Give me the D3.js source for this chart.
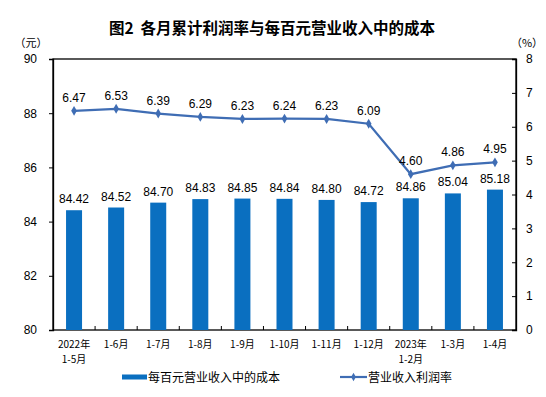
<!DOCTYPE html>
<html>
<head>
<meta charset="utf-8">
<script src="https://cdn.jsdelivr.net/npm/d3@7"></script>
<style>
  body { margin: 0; background: #fff; }
  text { font-family: "Liberation Sans", "Noto Sans CJK SC", sans-serif; fill: #000; }
</style>
</head>
<body>
<script>
// categories (two-line labels) and the two series
var months = ["2022年|1-5月", "1-6月", "1-7月", "1-8月", "1-9月", "1-10月", "1-11月", "1-12月", "2023年|1-2月", "1-3月", "1-4月"];
var costPerHundred = [84.42, 84.52, 84.70, 84.83, 84.85, 84.84, 84.80, 84.72, 84.86, 85.04, 85.18];
var profitRate = [6.47, 6.53, 6.39, 6.29, 6.23, 6.24, 6.23, 6.09, 4.60, 4.86, 4.95];
var leftTicks = [80, 82, 84, 86, 88, 90];
var rightTicks = [0, 1, 2, 3, 4, 5, 6, 7, 8];

var W = 546, H = 397;
var margin = {top: 59, right: 30, bottom: 67, left: 53},
    width = W - margin.left - margin.right,
    height = H - margin.top - margin.bottom;

var barColor = "#0A6FC0", lineColor = "#3F6DB4";

var svg = d3.select("body").append("svg")
    .attr("width", W).attr("height", H);

svg.append("text")
    .attr("x", 272).attr("y", 34)
    .attr("text-anchor", "middle")
    .style("font-family", "'Noto Sans CJK SC', sans-serif")
    .style("font-size", "15.5px").style("font-weight", "bold")
    .text("图2\u00a0\u00a0各月累计利润率与每百元营业收入中的成本");

svg.append("text").attr("x", 31).attr("y", 47).attr("text-anchor", "middle")
    .style("font-family", "'Noto Sans CJK SC', sans-serif")
    .style("font-size", "11px").text("（元）");
svg.append("text").attr("x", 527).attr("y", 47).attr("text-anchor", "middle")
    .style("font-family", "'Noto Sans CJK SC', sans-serif")
    .style("font-size", "11px").text("（%）");

var g = svg.append("g")
    .attr("transform", "translate(" + margin.left + "," + margin.top + ")");

var x = d3.scaleBand().domain(d3.range(months.length)).range([0, width]).padding(0);
var yL = d3.scaleLinear().domain([80, 90]).range([height, 0]);
var yR = d3.scaleLinear().domain([0, 8]).range([height, 0]);

// frame
g.append("rect").attr("width", width).attr("height", height)
    .attr("fill", "none").attr("stroke", "#000").attr("stroke-width", 1.3);

// left axis
var axL = g.append("g").call(d3.axisLeft(yL).tickValues(leftTicks).tickSize(4).tickPadding(12));
// right axis
var axR = g.append("g").attr("transform", "translate(" + width + ",0)")
    .call(d3.axisRight(yR).tickValues(rightTicks).tickSize(-4).tickPadding(10));
[axL, axR].forEach(function(a) {
  a.select(".domain").attr("stroke", "#000").attr("stroke-width", 1.3);
  a.selectAll("line").attr("stroke", "#000");
  a.selectAll("text").style("font-size", "12px").style("font-family", "'Liberation Sans', sans-serif").attr("fill", "#000");
});

// x ticks between categories, pointing inward
g.selectAll(".xtick").data(d3.range(1, months.length)).enter().append("line")
    .attr("x1", function(d) { return x(d); }).attr("x2", function(d) { return x(d); })
    .attr("y1", height).attr("y2", height - 4)
    .attr("stroke", "#000");

// x labels
var xl = g.selectAll(".xlab").data(months).enter().append("text")
    .attr("x", function(d, i) { return x(i) + x.bandwidth() / 2; })
    .attr("y", height + 18)
    .attr("text-anchor", "middle")
    .style("font-family", "'Noto Sans CJK SC', sans-serif")
    .style("font-size", "10px");
xl.each(function(d) {
  var parts = d.split("|");
  var t = d3.select(this);
  parts.forEach(function(p, k) {
    t.append("tspan").attr("x", t.attr("x")).attr("dy", k === 0 ? 0 : 15).text(p);
  });
});

// bars
var bw = 16;
g.selectAll(".bar").data(costPerHundred).enter().append("rect")
    .attr("x", function(d, i) { return x(i) + x.bandwidth() / 2 - bw / 2; })
    .attr("y", function(d) { return yL(d); })
    .attr("width", bw)
    .attr("height", function(d) { return height - yL(d); })
    .attr("fill", barColor);

g.selectAll(".blab").data(costPerHundred).enter().append("text")
    .attr("x", function(d, i) { return x(i) + x.bandwidth() / 2; })
    .attr("y", function(d) { return yL(d) - 7; })
    .attr("text-anchor", "middle")
    .style("font-size", "12px")
    .text(function(d) { return d.toFixed(2); });

// line
var line = d3.line()
    .x(function(d, i) { return x(i) + x.bandwidth() / 2; })
    .y(function(d) { return yR(d); });
g.append("path").datum(profitRate)
    .attr("d", line).attr("fill", "none")
    .attr("stroke", lineColor).attr("stroke-width", 2.2);

g.selectAll(".pt").data(profitRate).enter().append("path")
    .attr("d", d3.symbol().type(d3.symbolDiamond).size(28))
    .attr("transform", function(d, i) { return "translate(" + (x(i) + x.bandwidth() / 2) + "," + yR(d) + ")"; })
    .attr("fill", lineColor);

g.selectAll(".plab").data(profitRate).enter().append("text")
    .attr("x", function(d, i) { return x(i) + x.bandwidth() / 2; })
    .attr("y", function(d) { return yR(d) - 9; })
    .attr("text-anchor", "middle")
    .style("font-size", "12px")
    .text(function(d) { return d.toFixed(2); });

// legend
var lg = svg.append("g").attr("transform", "translate(0,377)");
lg.append("rect").attr("x", 122).attr("y", -2.5).attr("width", 25).attr("height", 5).attr("fill", barColor);
lg.append("text").attr("x", 148).attr("y", 4.5)
    .style("font-family", "'Noto Sans CJK SC', sans-serif").style("font-size", "12px")
    .text("每百元营业收入中的成本");
lg.append("line").attr("x1", 340).attr("x2", 367).attr("y1", 0).attr("y2", 0)
    .attr("stroke", lineColor).attr("stroke-width", 2.2);
lg.append("path").attr("d", d3.symbol().type(d3.symbolDiamond).size(20)())
    .attr("transform", "translate(353.5,0)").attr("fill", lineColor);
lg.append("text").attr("x", 368).attr("y", 4.5)
    .style("font-family", "'Noto Sans CJK SC', sans-serif").style("font-size", "12px")
    .text("营业收入利润率");
</script>
</body>
</html>
